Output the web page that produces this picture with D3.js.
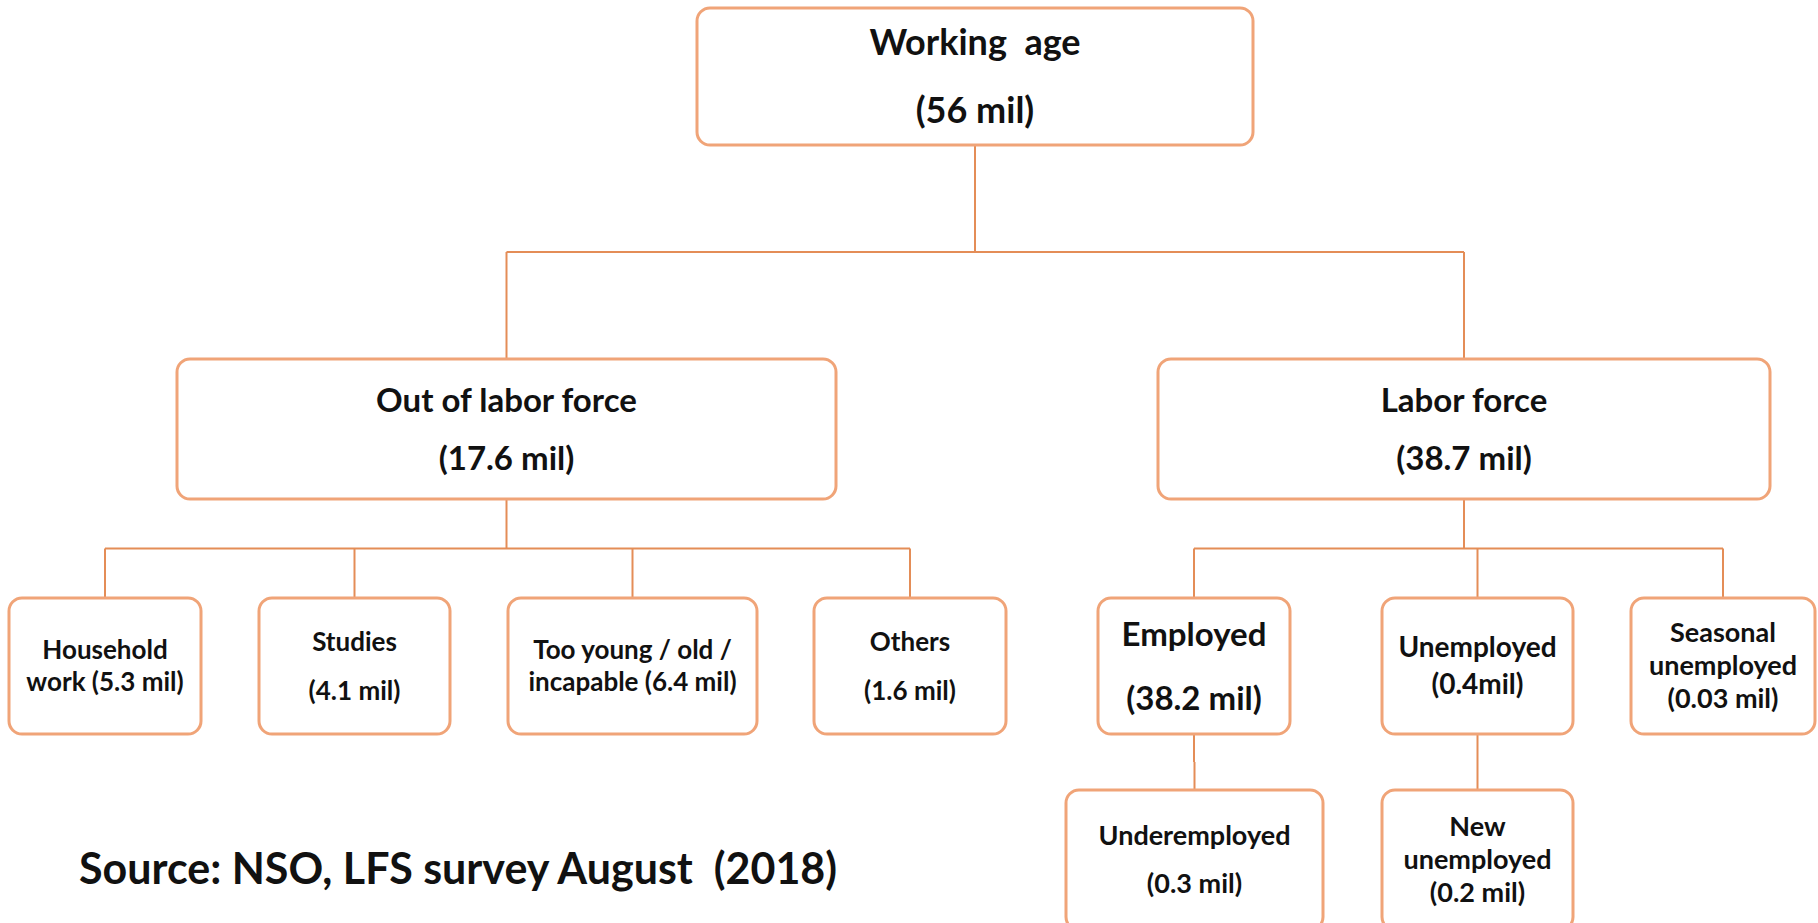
<!DOCTYPE html>
<html>
<head>
<meta charset="utf-8">
<script src="https://cdn.jsdelivr.net/npm/d3@7"></script>
<style>
  html, body { margin: 0; padding: 0; background: #ffffff; }
  svg { display: block; }
  .box { fill: #ffffff; stroke: #f0a478; stroke-width: 3; }
  .link { fill: none; stroke: #e48d57; stroke-width: 2; }
  .label { font-family: Lato, "Open Sans", sans-serif; font-weight: 700; fill: #111111; white-space: pre; }
</style>
</head>
<body>
<svg id="chart" width="1818" height="923"></svg>
<script>
// ---- data ----
const nodeIds = ["work", "out", "lab", "house", "study", "young", "other", "emp", "unemp", "season", "under", "newun"];
const nodeParents = [null, "work", "work", "out", "out", "out", "out", "lab", "lab", "lab", "emp", "unemp"];
const nodeNames = ["Working  age", "Out of labor force", "Labor force", "Household work", "Studies",
    "Too young / old / incapable", "Others", "Employed", "Unemployed", "Seasonal unemployed",
    "Underemployed", "New unemployed"];
const nodeValues = [56, 17.6, 38.7, 5.3, 4.1, 6.4, 1.6, 38.2, 0.4, 0.03, 0.3, 0.2];
const sourceNote = "Source: NSO, LFS survey August  (2018)";

// ---- layout (pixel boxes, line breaks, type sizes) ----
const layout = {
    work:   { x: 697,  y: 8,   w: 556, h: 137, size: 36, lines: [["Working  age"], "v"], gap: 68, sep: " " },
    out:    { x: 177,  y: 359, w: 659, h: 140, size: 33, lines: [["Out of labor force"], "v"], gap: 58, sep: " " },
    lab:    { x: 1158, y: 359, w: 612, h: 140, size: 33, lines: [["Labor force"], "v"], gap: 58, sep: " " },
    house:  { x: 9,    y: 598, w: 192, h: 136, size: 26, lines: [["Household"], ["work", "v"]], gap: 32, sep: " " },
    study:  { x: 259,  y: 598, w: 191, h: 136, size: 26, lines: [["Studies"], "v"], gap: 49, sep: " " },
    young:  { x: 508,  y: 598, w: 249, h: 136, size: 26, lines: [["Too young / old /"], ["incapable", "v"]], gap: 32, sep: " " },
    other:  { x: 814,  y: 598, w: 192, h: 136, size: 26, lines: [["Others"], "v"], gap: 49, sep: " " },
    emp:    { x: 1098, y: 598, w: 192, h: 136, size: 33, lines: [["Employed"], "v"], gap: 64, sep: " " },
    unemp:  { x: 1382, y: 598, w: 191, h: 136, size: 28, lines: [["Unemployed"], "v"], gap: 37, sep: "" },
    season: { x: 1631, y: 598, w: 184, h: 136, size: 27, lines: [["Seasonal"], ["unemployed"], "v"], gap: 33, sep: " " },
    under:  { x: 1066, y: 790, w: 257, h: 140, size: 27, lines: [["Underemployed"], "v"], gap: 48, sep: " " },
    newun:  { x: 1382, y: 790, w: 191, h: 140, size: 27, lines: [["New"], ["unemployed"], "v"], gap: 33, sep: " " }
};

const svg = d3.select("#chart");

const table = nodeIds.map((id, i) => ({ id, parent: nodeParents[i], name: nodeNames[i], value: nodeValues[i] }));
const root = d3.stratify().id(d => d.id).parentId(d => d.parent)(table);

// place each node from the layout table
root.each(n => {
    const b = layout[n.id];
    n.box = b;
    n.cx = b.x + b.w / 2;
    n.top = b.y;
    n.bottom = b.y + b.h;
});

// ---- connectors: elbow bus from parent bottom to each child top ----
const linkG = svg.append("g").attr("class", "links");
root.each(n => {
    if (!n.children) return;
    const kids = n.children;
    const busY = (n.bottom + d3.min(kids, k => k.top)) / 2;
    linkG.append("path").attr("class", "link")
        .attr("d", d3.line()([[n.cx, n.bottom], [n.cx, busY]]));
    const xs = kids.map(k => k.cx).concat([n.cx]);
    linkG.append("path").attr("class", "link")
        .attr("d", d3.line()([[d3.min(xs), busY], [d3.max(xs), busY]]));
    kids.forEach(k => {
        linkG.append("path").attr("class", "link")
            .attr("d", d3.line()([[k.cx, busY], [k.cx, k.top]]));
    });
});

// ---- boxes ----
const fmtVal = (v, sep) => "(" + v + sep + "mil)";

const nodeG = svg.append("g").attr("class", "nodes")
    .selectAll("g")
    .data(root.descendants())
    .join("g")
    .attr("transform", d => `translate(${d.box.x},${d.box.y})`);

nodeG.append("rect").attr("class", "box")
    .attr("width", d => d.box.w)
    .attr("height", d => d.box.h)
    .attr("rx", 13);

nodeG.each(function (d) {
    const b = d.box;
    const val = fmtVal(d.data.value, b.sep);
    const lines = b.lines.map(l => l === "v" ? val : l.map(p => p === "v" ? val : p).join(" "));
    const y0 = b.h / 2 - (lines.length - 1) * b.gap / 2;
    d3.select(this).selectAll("text")
        .data(lines)
        .join("text")
        .attr("class", "label")
        .attr("x", b.w / 2)
        .attr("y", (t, i) => y0 + i * b.gap)
        .attr("dy", "0.35em")
        .attr("text-anchor", "middle")
        .style("font-size", b.size + "px")
        .text(t => t);
});

// ---- source note ----
svg.append("text")
    .attr("class", "label")
    .attr("x", 79)
    .attr("y", 884)
    .style("font-size", "43px")
    .text(sourceNote);
</script>
</body>
</html>
